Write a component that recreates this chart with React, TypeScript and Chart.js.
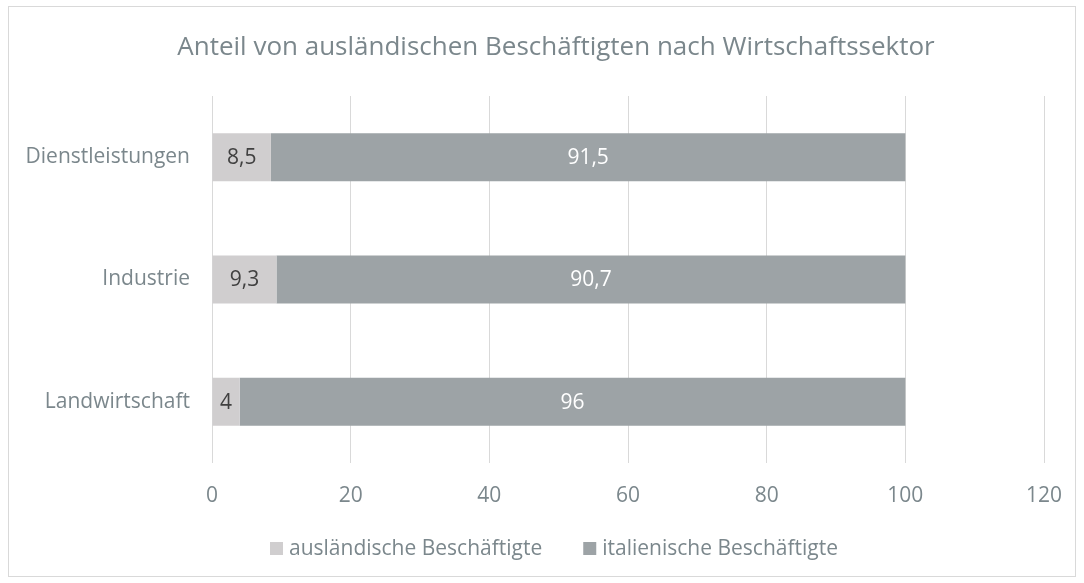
import React, { useEffect, useRef } from "react";
import { Chart, registerables } from "chart.js";

Chart.register(...registerables);

const TITLE = "Anteil von ausländischen Beschäftigten nach Wirtschaftssektor";
const categories = ["Dienstleistungen", "Industrie", "Landwirtschaft"];
const auslaendisch = [8.5, 9.3, 4];
const italienisch = [91.5, 90.7, 96];
const seriesNames = ["ausländische Beschäftigte", "italienische Beschäftigte"];
const xTicks = [0, 20, 40, 60, 80, 100, 120];

const FONT = "'Open Sans', sans-serif";
const TEXT = "#7b878c";

const fmt = (v: number) => String(v).replace(".", ",");

export default function App() {
  const ref = useRef<HTMLCanvasElement | null>(null);
  useEffect(() => {
    if (!ref.current) return;
    const deco = {
      id: "deco",
      beforeDraw(chart: any) {
        const c = chart.ctx;
        c.save();
        c.fillStyle = "#ffffff";
        c.fillRect(0, 0, chart.width, chart.height);
        c.strokeStyle = "#d9d9d9";
        c.lineWidth = 1;
        c.strokeRect(8.5, 6.5, 1067, 570);
        c.fillStyle = TEXT;
        c.font = `26px ${FONT}`;
        c.textAlign = "center";
        c.textBaseline = "middle";
        c.fillText(TITLE, 556, 48);
        c.restore();
      },
      afterDatasetsDraw(chart: any) {
        const c = chart.ctx;
        c.save();
        c.font = `21px ${FONT}`;
        c.textAlign = "center";
        c.textBaseline = "middle";
        chart.data.datasets.forEach((ds: any, di: number) => {
          const meta = chart.getDatasetMeta(di);
          meta.data.forEach((bar: any, i: number) => {
            const p = bar.getProps(["x", "y", "base"], true);
            c.fillStyle = di === 0 ? "#404040" : "#ffffff";
            c.fillText(fmt(ds.data[i]), (p.x + p.base) / 2, p.y + 1);
          });
        });
        c.restore();
      },
      afterDraw(chart: any) {
        // legend
        const c = chart.ctx;
        c.save();
        c.font = `21px ${FONT}`;
        c.textBaseline = "middle";
        c.textAlign = "left";
        let x = 270;
        const y = 548;
        chart.data.datasets.forEach((ds: any) => {
          c.fillStyle = ds.backgroundColor;
          c.fillRect(x, y - 6, 13, 13);
          c.fillStyle = TEXT;
          c.fillText(ds.label, x + 19, y + 1);
          x += 19 + c.measureText(ds.label).width + 41;
        });
        c.restore();
      },
    };
    const chart = new Chart(ref.current, {
      type: "bar",
      data: {
        labels: categories,
        datasets: [
          { label: seriesNames[0], data: auslaendisch, backgroundColor: "#d0cecf", borderWidth: 0 },
          { label: seriesNames[1], data: italienisch, backgroundColor: "#9da3a6", borderWidth: 0 },
        ],
      },
      options: {
        indexAxis: "y",
        animation: false,
        responsive: false,
        devicePixelRatio: 1,
        layout: { padding: { left: 0, right: 40, top: 96, bottom: 70 } },
        datasets: { bar: { categoryPercentage: 0.8, barPercentage: 0.49 } },
        scales: {
          x: {
            stacked: true,
            min: 0,
            max: 120,
            afterBuildTicks: (s: any) => {
              s.ticks = xTicks.map((v) => ({ value: v }));
            },
            afterFit: (s: any) => {
              s.height = 50;
            },
            grid: { color: "#d9d9d9", drawTicks: false, lineWidth: 1 },
            border: { display: false },
            ticks: { color: TEXT, font: { family: FONT, size: 21 }, padding: 20, maxRotation: 0 },
          },
          y: {
            stacked: true,
            grid: { display: false, drawTicks: false },
            border: { display: false },
            ticks: { color: TEXT, font: { family: FONT, size: 21 }, padding: 22 },
            afterFit: (s: any) => {
              s.width = 212;
            },
          },
        },
        plugins: {
          legend: { display: false },
          title: { display: false },
          tooltip: { enabled: false },
        },
      },
      plugins: [deco],
    });
    return () => chart.destroy();
  }, []);
  return (
    <div style={{ position: "fixed", left: 0, top: 0, width: 1084, height: 583 }}>
      <canvas ref={ref} width={1084} height={583} style={{ display: "block" }} />
    </div>
  );
}
